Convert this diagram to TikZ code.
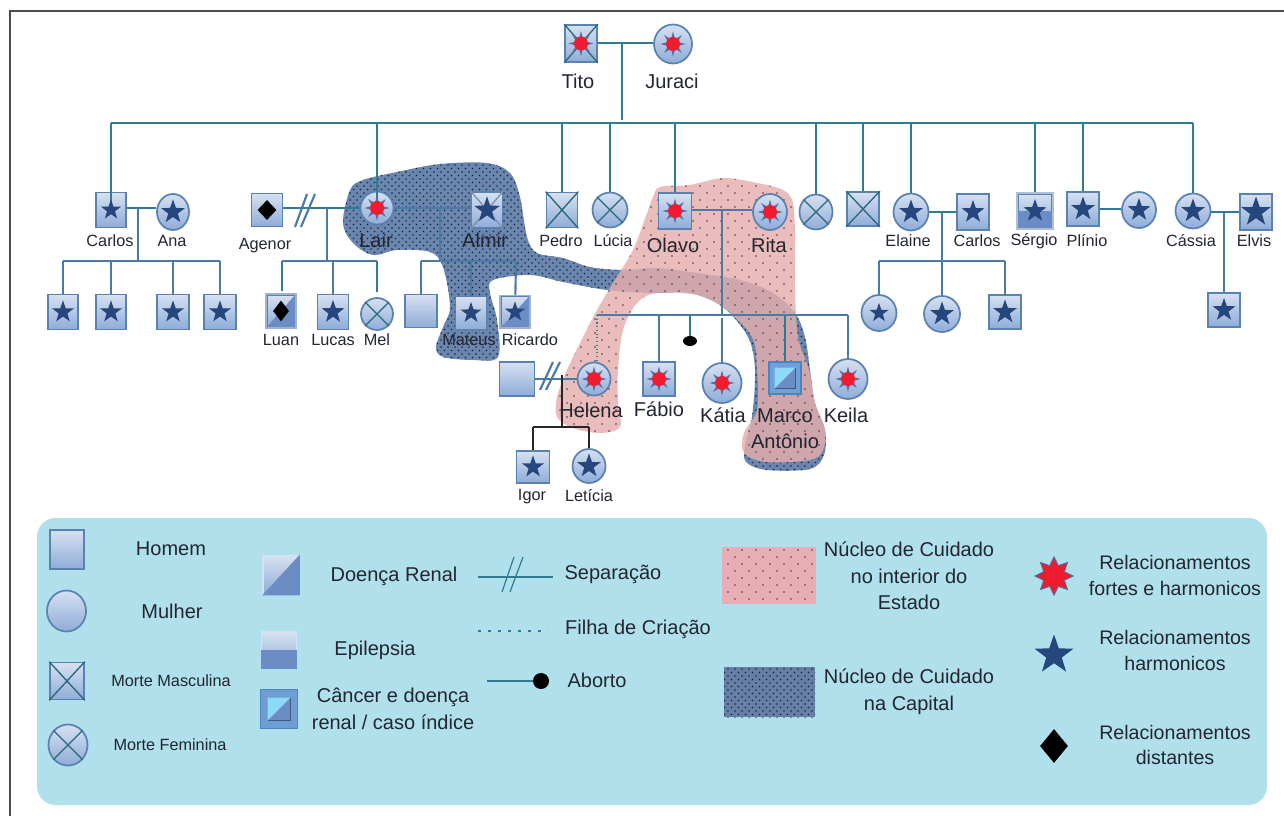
\documentclass[tikz,border=0pt]{standalone}
\usepackage{fontspec}
\setmainfont{Liberation Sans}
\usetikzlibrary{shapes.geometric,patterns}
\definecolor{panelc}{HTML}{B0E0EC}
\definecolor{famc}{HTML}{2F7C90}
\definecolor{kidc}{HTML}{4A7BA6}
\definecolor{bdc}{HTML}{5A82B0}
\definecolor{topc}{HTML}{D6E1F1}
\definecolor{botc}{HTML}{8FACD8}
\definecolor{navyc}{HTML}{26477D}
\definecolor{spkc}{HTML}{5A6A9C}
\definecolor{redc}{HTML}{EE1C2E}
\definecolor{renalc}{HTML}{6C8CC6}
\definecolor{pinkc}{HTML}{EBBCBC}
\definecolor{pinkl}{HTML}{E8AEB4}
\definecolor{pinkd}{HTML}{4A3C3E}
\definecolor{capc}{HTML}{6A86AE}
\definecolor{capd}{HTML}{18243C}
\definecolor{overc}{HTML}{6A5A70}
\definecolor{txtc}{HTML}{222630}
\definecolor{marcoc}{HTML}{6FA0D6}
\definecolor{marcob}{HTML}{4A86BE}
\pgfdeclarepatternformonly{capdots}{\pgfqpoint{-1pt}{-1pt}}{\pgfqpoint{4.25pt}{4.25pt}}{\pgfqpoint{5.25pt}{5.25pt}}{%
 \pgfpathcircle{\pgfqpoint{0pt}{0pt}}{.72pt}\pgfpathcircle{\pgfqpoint{2.625pt}{2.625pt}}{.72pt}\pgfusepath{fill}}
\pgfdeclarepatternformonly{pinkdots}{\pgfqpoint{-1pt}{-1pt}}{\pgfqpoint{9.5pt}{9.5pt}}{\pgfqpoint{10.5pt}{10.5pt}}{%
 \pgfpathcircle{\pgfqpoint{0pt}{0pt}}{.62pt}\pgfpathcircle{\pgfqpoint{5.25pt}{5.25pt}}{.62pt}\pgfusepath{fill}}
\newcommand{\pxs}{0.75pt}
\tikzset{
 sqbox/.style={rectangle,inner sep=0,draw=bdc,line width=1.3pt,top color=topc,bottom color=botc},
 cibox/.style={ellipse,inner sep=0,draw=bdc,line width=1.3pt,top color=topc,bottom color=botc},
 fam/.style={draw=famc,line width=1.6pt},
 kid/.style={draw=kidc,line width=1.6pt},
 blk/.style={draw=black!85,line width=1.6pt},
 xline/.style={draw=famc!85!black,line width=1pt},
 starmk/.style={star,star points=5,star point ratio=2.5,fill=navyc,inner sep=0,draw=none},
 diamk/.style={diamond,fill=black,inner sep=0,draw=none},
 spk/.style={star,star points=8,star point ratio=2.4,fill=spkc,inner sep=0,minimum size=25*\pxs},
 core/.style={circle,fill=redc,inner sep=0,minimum size=14*\pxs},
 big/.style={text=txtc,inner sep=0,align=center,font=\fontsize{15}{19.5}\selectfont},
 small/.style={text=txtc,inner sep=0,align=center,font=\fontsize{12.2}{15}\selectfont},
 leg/.style={text=txtc,inner sep=0,align=center,font=\fontsize{15}{20}\selectfont},
 legr/.style={text=txtc,inner sep=0,align=center,font=\fontsize{14.7}{18.8}\selectfont},
 legs/.style={text=txtc,inner sep=0,align=center,font=\fontsize{12.2}{15}\selectfont},
}
\newcommand{\sqn}[5]{\node[sqbox,minimum width=#4*\pxs,minimum height=#5*\pxs] (#1) at (#2,#3) {};}
\newcommand{\cin}[5]{\node[cibox,minimum width=#4*\pxs,minimum height=#5*\pxs] (#1) at (#2,#3) {};}
\newcommand{\stm}[2]{\node[starmk,minimum size=#2*\pxs] (#1st) at (#1) {};}
\newcommand{\brs}[1]{\node[spk] (#1sp) at (#1) {};\node[core] (#1co) at (#1) {};}
\newcommand{\xsq}[1]{\draw[xline] (#1.north west)--(#1.south east) (#1.north east)--(#1.south west);}
\newcommand{\xci}[1]{\draw[xline] (#1.45)--(#1.225) (#1.135)--(#1.315);}
\newcommand{\dgf}[1]{\fill[renalc] (#1.north east)--(#1.south east)--(#1.south west)--cycle;\draw[bdc!60,line width=1.3pt] (#1.south west) rectangle (#1.north east);}
\newcommand{\capblob}{plot[smooth cycle,tension=.55] coordinates {(343,223)(350,190)(363,180)(397,172)(440,164)(487,163)(510,173)(520,197)(527,237)(537,253)(563,258)(590,267)(623,270)(657,268)(697,273)(740,280)(773,293)(795,313)(805,337)(810,370)(815,403)(825,430)(824,455)(810,469)(767,470)(746,462)(745,445)(752,417)(755,370)(748,337)(723,307)(690,293)(650,293)(607,290)(563,282)(530,275)(493,280)(490,293)(497,320)(498,357)(473,360)(443,357)(436,347)(443,327)(450,307)(443,267)(430,252)(397,250)(373,255)(353,243)}}
\newcommand{\pinkblob}{plot[smooth cycle,tension=.55] coordinates {(660,187)(690,185)(723,178)(757,183)(783,190)(793,203)(795,237)(795,287)(798,337)(809,370)(815,403)(825,430)(823,450)(810,460)(767,462)(744,453)(744,433)(757,410)(757,370)(752,337)(723,307)(697,295)(657,293)(637,303)(623,330)(618,370)(618,403)(620,427)(600,433)(573,428)(557,417)(557,397)(567,370)(583,337)(597,310)(613,283)(633,250)(647,213)(653,197)}}
\begin{document}
\begin{tikzpicture}[x=\pxs,y=-\pxs]
\useasboundingbox (0,0) rectangle (1284,816);
\fill[white] (0,0) rectangle (1284,816);
\draw[black!70,line width=1.1pt] (10,816) -- (10,11) -- (1284,11);
% care blobs
\fill[capc] \capblob;
\fill[pattern=capdots,pattern color=capd] \capblob;
\fill[pinkc] \pinkblob;
\begin{scope}
 \path[clip] \pinkblob;
 \fill[overc,opacity=.22] \capblob;
\end{scope}
\fill[pattern=pinkdots,pattern color=pinkd] \pinkblob;
% legend panel
\fill[panelc,rounded corners=14pt] (37,518) rectangle (1267,805);
% people
\sqn{tito}{581}{43.5}{32}{37}\cin{juraci}{673}{44}{38}{39}
\sqn{carlosa}{111}{210}{30}{35}\cin{ana}{173}{212}{32}{36}
\sqn{ka}{63}{312}{30}{35}\sqn{kb}{111}{312}{30}{35}\sqn{kc}{173}{312}{32}{35}\sqn{kd}{220}{312}{32}{35}
\sqn{agenor}{267}{210}{31}{33}\cin{lair}{377}{208}{33}{33}\sqn{almir}{487}{210}{31}{36}
\sqn{luan}{281}{311}{28}{32}\sqn{lucas}{333}{312}{31}{35}\cin{mel}{377}{314}{32}{32}
\sqn{semn}{421}{311}{32}{33}\sqn{mateus}{471}{313}{31}{33}\sqn{ricardo}{515}{312}{28}{31}
\sqn{pedro}{562}{210}{31}{35}\cin{lucia}{610}{210}{35}{35}
\sqn{olavo}{675}{211}{33}{36}\cin{rita}{770}{212}{34}{36}
\cin{mx}{816}{212}{33}{35}\sqn{sx}{863}{209}{32}{34}
\cin{elaine}{911}{212}{35}{37}\sqn{carlosb}{973}{212}{32}{36}
\cin{ea}{879}{313}{35}{36}\cin{eb}{942}{314}{36}{36}\sqn{ec}{1005}{312}{32}{34}
\sqn{sergio}{1035}{211}{34}{34}\sqn{plinio}{1083}{209}{32}{34}\cin{esposa}{1139}{210}{34}{36}
\cin{cassia}{1193}{211}{35}{35}\sqn{elvis}{1256}{212}{32}{36}\sqn{cfilho}{1224}{310}{32}{34}
\sqn{exm}{517}{379}{35}{34}\cin{helena}{594}{379}{33}{33}\sqn{fabio}{659}{379}{32}{34}
\cin{katia}{722}{383}{39}{40}\cin{keila}{848}{379}{39}{40}
\node[rectangle,inner sep=0,fill=marcoc,draw=marcob,line width=1.3pt,minimum width=32*\pxs,minimum height=32*\pxs] (marco) at (785,378) {};
\sqn{igor}{533}{467}{33}{32}\cin{leticia}{589}{466}{33}{34}
% junctions
\coordinate (jt) at (622,43);\coordinate (jb) at (622,120);
\coordinate (bl) at (111,123);\coordinate (br) at (1193,123);
\coordinate (b2) at (377,123);\coordinate (b3) at (562,123);\coordinate (b4) at (610,123);\coordinate (b5) at (675,123);\coordinate (b6) at (816,123);\coordinate (b7) at (863,123);\coordinate (b8) at (911,123);\coordinate (b9) at (1035,123);\coordinate (b10) at (1083,123);
\coordinate (inc) at (111,203);\coordinate (inl) at (377,200);
\coordinate (j1) at (138,208);\coordinate (j1b) at (138,261);\coordinate (k1l) at (63,261);\coordinate (k1b) at (111,261);\coordinate (k1c) at (173,261);\coordinate (k1r) at (220,261);
\coordinate (j2) at (327,208);\coordinate (j2b) at (327,261);\coordinate (k2l) at (282,261);\coordinate (k2b) at (333,261);\coordinate (k2r) at (377,261);\coordinate (e2l) at (282,291);\coordinate (e2r) at (377,292);
\coordinate (j3) at (440,208);\coordinate (j3b) at (440,261);\coordinate (k3l) at (421,261);\coordinate (k3b) at (471,261);\coordinate (k3r) at (516,261);
\coordinate (j4) at (722,210);\coordinate (j4b) at (722,315);\coordinate (k4l) at (597,315);\coordinate (k4f) at (659,315);\coordinate (k4a) at (690,315);\coordinate (k4k) at (722,318);\coordinate (k4m) at (785,315);\coordinate (k4r) at (848,315);
\coordinate (j5) at (942,212);\coordinate (j5b) at (942,261);\coordinate (k5l) at (879,261);\coordinate (k5r) at (1005,261);
\coordinate (j6) at (1224,212);\coordinate (j8) at (1110,209);
\coordinate (j7) at (562,375);\coordinate (j7b) at (562,427);\coordinate (k7l) at (533,427);\coordinate (k7r) at (589,427);
\coordinate (sa1) at (295,227);\coordinate (sa2) at (307,194);\coordinate (sb1) at (301,227);\coordinate (sb2) at (315,194);
\coordinate (sc1) at (540,390);\coordinate (sc2) at (553,362);\coordinate (sd1) at (546,390);\coordinate (sd2) at (560,362);
% connectors
\draw[fam] (jt -| tito.east)--(jt -| juraci.west);\draw[fam] (jt)--(jb);\draw[fam] (bl)--(br);
\draw[fam] (bl)--(inc);\draw[fam] (b2)--(inl);\draw[fam] (b3)--(pedro);\draw[fam] (b4)--(lucia);\draw[fam] (b5)--(olavo);\draw[fam] (b6)--(mx);\draw[fam] (b7)--(sx);\draw[fam] (b8)--(elaine);\draw[fam] (b9)--(sergio);\draw[fam] (b10)--(plinio);\draw[fam] (br)--(cassia);
\draw[fam] (j1 -| carlosa.east)--(j1 -| ana.west);\draw[kid] (j1)--(j1b);\draw[kid] (k1l)--(k1r);\draw[kid] (k1l)--(ka);\draw[kid] (k1b)--(kb);\draw[kid] (k1c)--(kc);\draw[kid] (k1r)--(kd);
\draw[fam] (j2 -| agenor.east)--(lair);\draw[kid] (sa1)--(sa2);\draw[kid] (sb1)--(sb2);
\draw[kid] (j2)--(j2b);\draw[kid] (k2l)--(k2r);\draw[fam] (k2l)--(e2l);\draw[kid] (k2b)--(lucas);\draw[fam] (k2r)--(e2r);
\draw[kid] (lair)--(j3 -| almir.west);\draw[kid] (j3)--(j3b);\draw[kid] (k3l)--(k3r);\draw[kid] (k3l)--(semn);\draw[kid] (k3b)--(mateus);\draw[kid] (k3r)--(ricardo);
\draw[kid] (j4 -| olavo.east)--(j4 -| rita.west);\draw[kid] (j4)--(j4b);\draw[kid] (k4l)--(k4r);\draw[kid] (k4f)--(fabio);\draw[kid] (k4k)--(katia);\draw[fam] (k4m)--(marco);\draw[kid] (k4r)--(keila);
\draw[famc,line width=.8pt,dotted] (k4l)--(k4l |- helena.north);
\node[ellipse,fill=black,inner sep=0,minimum width=14*\pxs,minimum height=10*\pxs] (aborto) at (690,341) {};
\draw[fam] (k4a)--(aborto);
\draw[fam] (elaine)--(carlosb);\draw[kid] (j5)--(j5b);\draw[kid] (k5l)--(k5r);\draw[kid] (k5l)--(ea);\draw[kid] (j5b)--(eb);\draw[kid] (k5r)--(ec);
\draw[fam] (j8 -| plinio.east)--(j8 -| esposa.west);
\draw[fam] (j6 -| cassia.east)--(elvis);\draw[kid] (j6)--(cfilho);
\draw[kid] (exm)--(helena);\draw[kid] (sc1)--(sc2);\draw[kid] (sd1)--(sd2);
\draw[blk] (j7)--(j7b);\draw[blk] (k7l)--(k7r);\draw[blk] (k7l)--(igor);\draw[blk] (k7r)--(leticia);
% marks
\xsq{tito}\xsq{pedro}\xsq{sx}\xci{lucia}\xci{mx}\xci{mel}
\draw[xline,navyc!60] (almir.north west)--(almir.south east) (almir.north east)--(almir.south west);
\dgf{luan}\dgf{ricardo}
\fill[renalc] (sergio.west) rectangle (sergio.south east);
\draw[bdc!50,line width=1.3pt] (sergio.south west) rectangle (sergio.north east);
\brs{tito}\brs{juraci}\brs{lair}\brs{olavo}\brs{rita}\brs{helena}\brs{fabio}\brs{katia}\brs{keila}
\stm{carlosa}{21}\stm{ana}{25}\stm{ka}{23}\stm{kb}{23}\stm{kc}{23}\stm{kd}{23}
\stm{lucas}{24}\stm{almir}{27}\stm{mateus}{22}\stm{ricardo}{21}
\stm{elaine}{25}\stm{carlosb}{24}\stm{ea}{20}\stm{eb}{25}\stm{ec}{25}
\stm{sergio}{24}\stm{plinio}{25}\stm{esposa}{24}\stm{cassia}{25}\stm{elvis}{31}\stm{cfilho}{24}
\stm{igor}{23}\stm{leticia}{25}
\node[diamk,minimum width=19*\pxs,minimum height=20*\pxs] (agenordm) at (agenor) {};
\node[diamk,minimum width=16*\pxs,minimum height=21*\pxs] (luandm) at (luan) {};
% Marco inner
\node[rectangle,minimum size=20*\pxs,inner sep=0,draw=bdc!70!black,fill=renalc] (marcoin) at (marco) {};
\fill[cyan!45!white] (marcoin.north west)--(marcoin.north east)--(marcoin.south west)--cycle;
% names
\node[big] (tTito) at (578,81) {Tito};
\node[big] (tJuraci) at (672,81) {Juraci};
\node[small] (tCarlos) at (110,241) {Carlos};
\node[small] (tAna) at (172,241) {Ana};
\node[small] (tAgenor) at (265,246) {Agenor};
\node[big] (tLair) at (376,240) {Lair};
\node[big] (tAlmir) at (485,240) {Almir};
\node[small] (tPedro) at (561,241) {Pedro};
\node[small] (tLucia) at (613,241) {Lúcia};
\node[big] (tOlavo) at (673,245) {Olavo};
\node[big] (tRita) at (769,245) {Rita};
\node[small] (tElaine) at (908,241) {Elaine};
\node[small] (tCarlos2) at (977,241) {Carlos};
\node[small] (tSergio) at (1034,241) {Sérgio};
\node[small] (tPlinio) at (1087,241) {Plínio};
\node[small] (tCassia) at (1191,241) {Cássia};
\node[small] (tElvis) at (1254,241) {Elvis};
\node[small] (tLuan) at (281,340) {Luan};
\node[small] (tLucas) at (333,340) {Lucas};
\node[small] (tMel) at (377,340) {Mel};
\node[small] (tMateus) at (469,340) {Mateus};
\node[small] (tRicardo) at (530,340) {Ricardo};
\node[big] (tHelena) at (591,410) {Helena};
\node[big] (tFabio) at (659,409) {Fábio};
\node[big] (tKatia) at (723,415) {Kátia};
\node[big] (tMarco) at (785,429) {Marco\\Antônio};
\node[big] (tKeila) at (846,415) {Keila};
\node[small] (tIgor) at (532,497) {Igor};
\node[small] (tLeticia) at (589,496) {Letícia};
% legend symbols
\sqn{lHomem}{67}{549.5}{34}{39}
\cin{lMulher}{66.5}{611}{39}{41}
\sqn{lMM}{67}{681}{34}{37}\xsq{lMM}
\cin{lMF}{68}{745}{39}{41}\xci{lMF}
\node[sqbox,draw=topc,minimum width=36*\pxs,minimum height=39*\pxs] (lRenal) at (281,575) {};
\fill[renalc] (lRenal.north east)--(lRenal.south east)--(lRenal.south west)--cycle;
\node[sqbox,draw=topc,minimum width=35*\pxs,minimum height=36*\pxs] (lEpi) at (279,650) {};
\fill[renalc] (lEpi.west) rectangle (lEpi.south east);
\node[rectangle,minimum width=37*\pxs,minimum height=39*\pxs,inner sep=0,fill=marcoc!80!renalc,draw=marcob] (lCan) at (279,709) {};
\node[rectangle,minimum size=22*\pxs,inner sep=0,fill=renalc,draw=bdc!70!black] (lCanIn) at (lCan) {};
\fill[cyan!45!white] (lCanIn.north west)--(lCanIn.north east)--(lCanIn.south west)--cycle;
% legend lines
\coordinate (ls1) at (478,577);\coordinate (ls2) at (553,577);
\coordinate (la1) at (502,592);\coordinate (la2) at (514,557);\coordinate (lb1) at (510,592);\coordinate (lb2) at (523,557);
\draw[fam,line width=1.1pt] (ls1)--(ls2);\draw[fam,line width=.9pt] (la1)--(la2);\draw[fam,line width=.9pt] (lb1)--(lb2);
\coordinate (lf1) at (478,631);\coordinate (lf2) at (548,631);
\draw[famc,line width=.8pt,dash pattern=on 2.5pt off 5pt] (lf1)--(lf2);
\coordinate (lab) at (487,681);
\node[circle,fill=black,inner sep=0,minimum size=16*\pxs] (lAb) at (541,681) {};
\draw[fam,line width=1.1pt] (lab)--(lAb);
\fill[pinkl] (722,547) rectangle (816,604);
\fill[pattern=pinkdots,pattern color=pinkd] (722,547) rectangle (816,604);
\fill[capc!95!black] (724,667) rectangle (815,717);
\fill[pattern=capdots,pattern color=capd] (724,667) rectangle (815,717);
\node[star,star points=8,star point ratio=1.7,fill=redc,draw=navyc!80,line width=.7pt,inner sep=0,minimum size=38*\pxs] (lRed) at (1054,576) {};
\node[starmk,minimum size=41*\pxs] (lBlue) at (1054,655) {};
\node[diamk,minimum width=28*\pxs,minimum height=34*\pxs] (lDia) at (1054,746) {};
% legend text
\node[leg] (xHomem) at (171,549) {Homem};
\node[leg] (xMulher) at (172,611) {Mulher};
\node[legs] (xMM) at (171,681) {Morte Masculina};
\node[legs] (xMF) at (170,745) {Morte Feminina};
\node[leg] (xRenal) at (394,576) {Doença Renal};
\node[leg] (xEpi) at (375,650) {Epilepsia};
\node[leg] (xCan) at (393,708.5) {Câncer e doença\\renal / caso índice};
\node[leg] (xSep) at (613,574) {Separação};
\node[leg] (xFil) at (638,629) {Filha de Criação};
\node[leg] (xAb) at (597,680) {Aborto};
\node[leg] (xNI) at (909,576) {Núcleo de Cuidado\\no interior do\\Estado};
\node[leg] (xNC) at (909,691.5) {Núcleo de Cuidado\\na Capital};
\node[legr] (xR1) at (1175,575.5) {Relacionamentos\\fortes e harmonicos};
\node[legr] (xR2) at (1175,650.5) {Relacionamentos\\harmonicos};
\node[legr] (xR3) at (1175,745) {Relacionamentos\\distantes};
\end{tikzpicture}
\end{document}
